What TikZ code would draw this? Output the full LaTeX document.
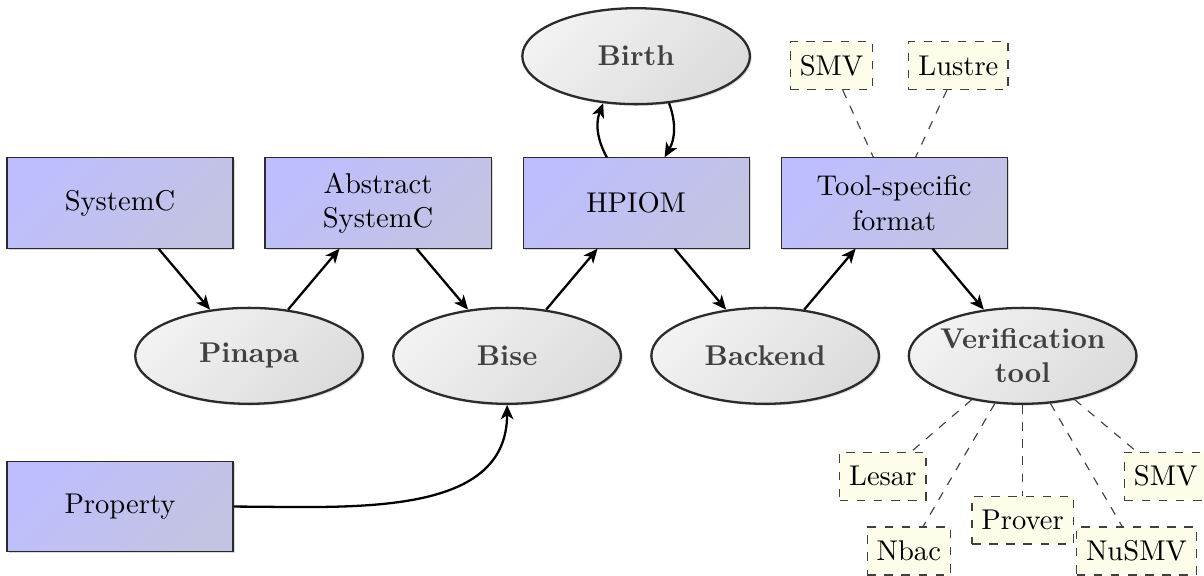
\documentclass[tikz,border=0pt]{standalone}
\usetikzlibrary{shapes.geometric, arrows.meta, positioning, calc, shadows}
\definecolor{modtop}{HTML}{BEBEFF}
\definecolor{modbot}{HTML}{C3C3E2}
\definecolor{tooltop}{HTML}{F2F2F2}
\definecolor{toolbot}{HTML}{DCDCDC}
\definecolor{notefill}{HTML}{FEFDEA}
\definecolor{edge}{HTML}{2B2B2B}
\tikzset{
  module/.style={
    rectangle, minimum width=2.78cm, minimum height=1.11cm, align=center,
    draw=edge, top color=modtop, bottom color=modbot, shading angle=45,
    drop shadow={shadow xshift=0.6pt, shadow yshift=-0.6pt, opacity=0.3}
  },
  tool/.style={
    ellipse, minimum width=2.8cm, minimum height=1.18cm, align=center,
    inner xsep=-2pt, inner ysep=2pt, draw=edge, thick,
    top color=tooltop, bottom color=toolbot, shading angle=45,
    font=\bfseries, text=black!75,
    drop shadow={shadow xshift=0.6pt, shadow yshift=-0.6pt, opacity=0.3}
  },
  target/.style={
    rectangle, dashed, draw=edge!90, fill=notefill, minimum height=0.59cm
  },
  flow/.style={
    -{Stealth[length=5pt, width=4.4pt, inset=1.4pt]}, thick
  },
  link/.style={
    dashed, draw=edge!90
  }
}
\begin{document}
\begin{tikzpicture}
  \useasboundingbox (-1.476,-4.576) rectangle (13.333,2.497);

  % Formats
  \node[module] (systemc) {SystemC};
  \node[module, right=0.38cm of systemc] (abstract) {Abstract\\SystemC};
  \node[module, right=0.38cm of abstract] (hpiom) {HPIOM};
  \node[module, right=0.38cm of hpiom] (format) {Tool-specific\\format};
  \node[module, below=2.61cm of systemc] (property) {Property};

  % Tools
  \node[tool] (pinapa) at ($(systemc)!0.5!(abstract)+(0,-1.88)$) {Pinapa};
  \node[tool] (bise) at ($(abstract)!0.5!(hpiom)+(0,-1.88)$) {Bise};
  \node[tool] (backend) at ($(hpiom)!0.5!(format)+(0,-1.88)$) {Backend};
  \node[tool] (verif) at ($(format)+(1.58,-1.88)$) {Verification\\tool};
  \node[tool, above=0.64cm of hpiom] (birth) {Birth};

  % Output languages and verifiers
  \node[target] (smvtop) at ($(format)+(-0.77,1.69)$) {SMV};
  \node[target] (lustre) at ($(format)+(0.79,1.69)$) {Lustre};
  \node[target] (lesar) at ($(verif)+(-1.72,-1.48)$) {Lesar};
  \node[target] (nbac) at ($(verif)+(-1.40,-2.40)$) {Nbac};
  \node[target] (prover) at ($(verif)+(0,-2.02)$) {Prover};
  \node[target] (nusmv) at ($(verif)+(1.40,-2.40)$) {NuSMV};
  \node[target] (smvbot) at ($(verif)+(1.76,-1.48)$) {SMV};

  % Tool chain
  \draw[flow] (systemc) -- (pinapa);
  \draw[flow] (pinapa) -- (abstract);
  \draw[flow] (abstract) -- (bise);
  \draw[flow] (bise) -- (hpiom);
  \draw[flow] (hpiom) -- (backend);
  \draw[flow] (backend) -- (format);
  \draw[flow] (format) -- (verif);
  \draw[flow] ([xshift=-0.36cm]hpiom.north) to[bend left=25] (birth.235);
  \draw[flow] (birth.305) to[bend left=25] ([xshift=0.35cm]hpiom.north);
  \draw[flow] (property) to[out=0, in=-90] (bise);

  % Dashed links
  \draw[link] (smvtop) -- (format);
  \draw[link] (lustre) -- (format);
  \foreach \t in {lesar, nbac, prover, nusmv, smvbot}
    \draw[link] (verif) -- (\t);

\end{tikzpicture}
\end{document}
